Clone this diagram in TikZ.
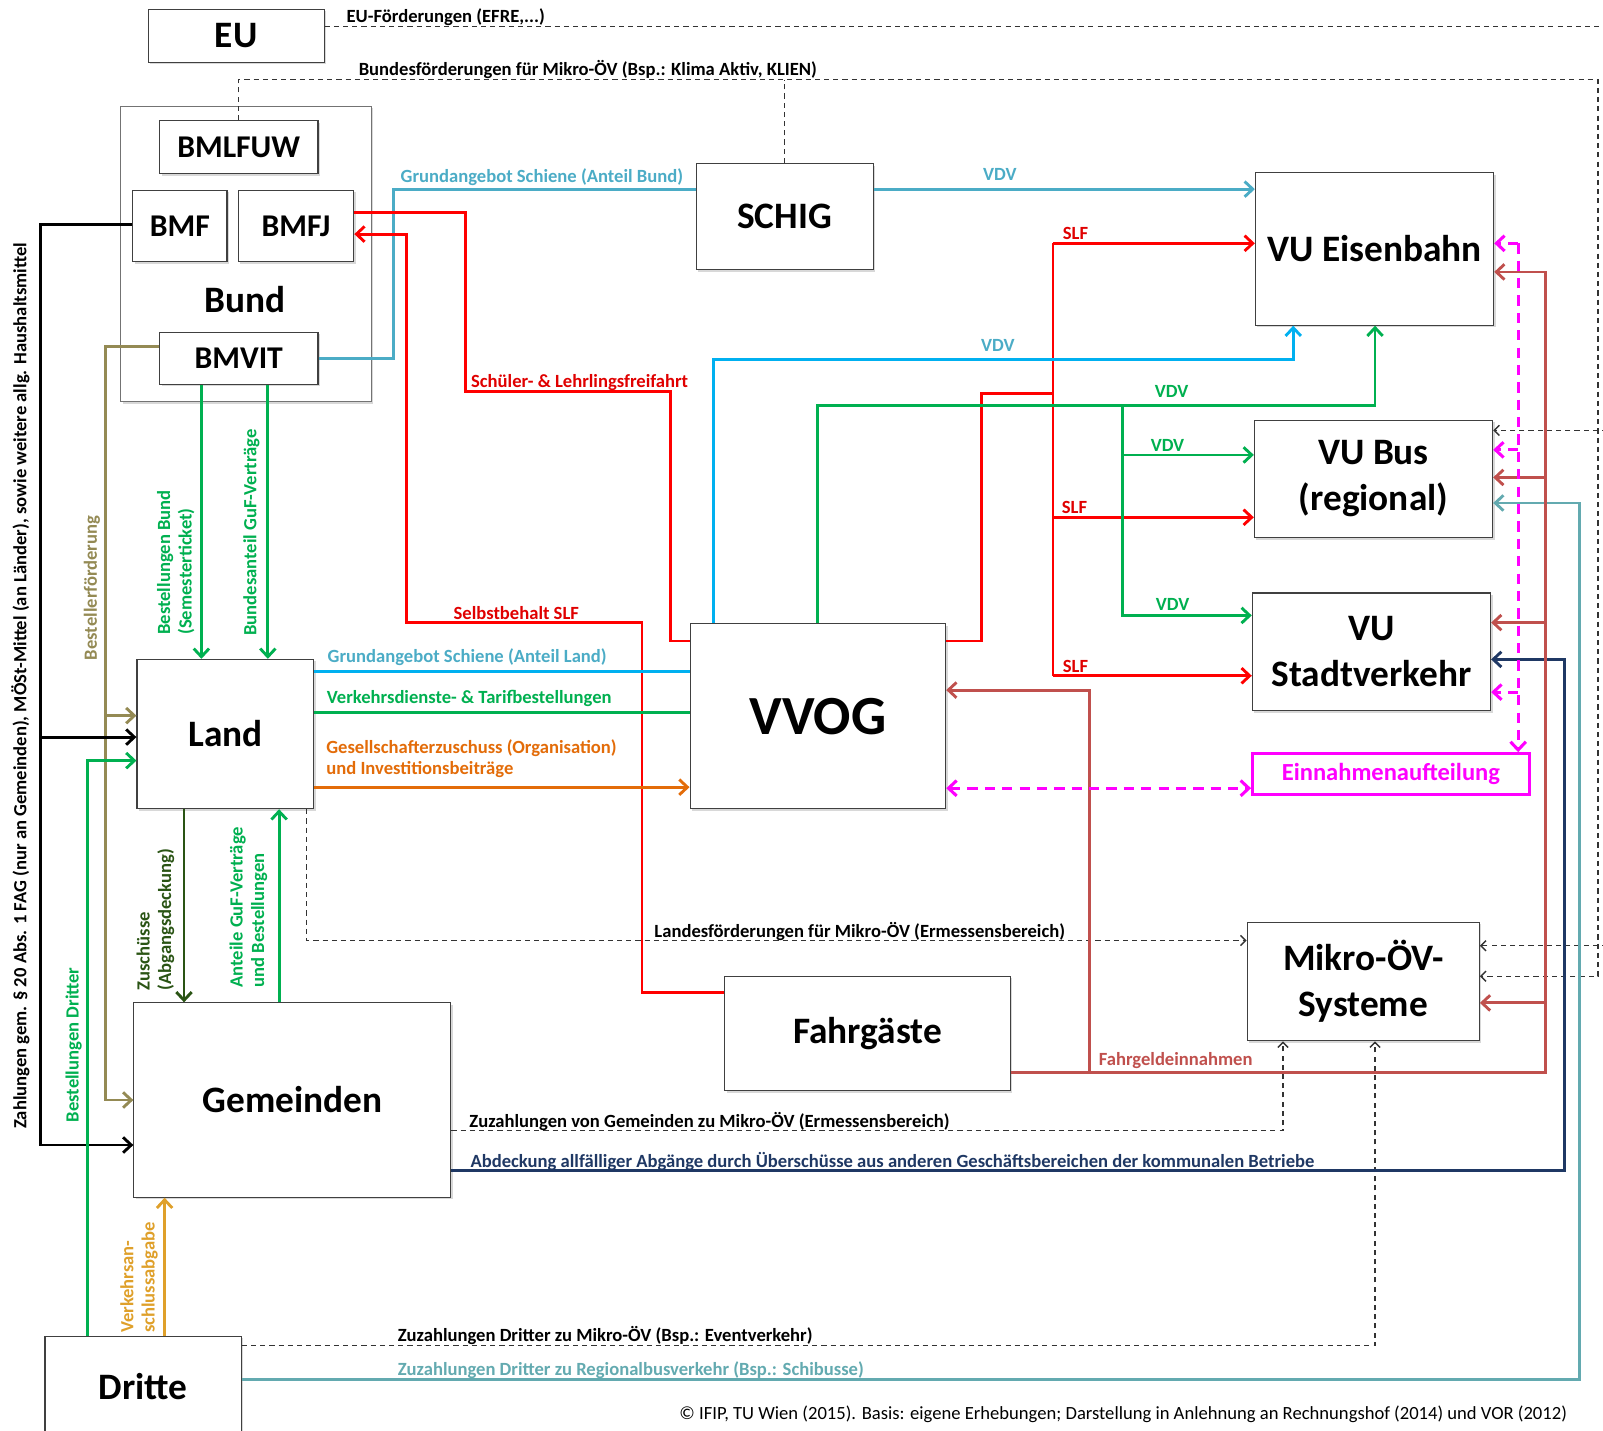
\documentclass[tikz,border=0pt]{standalone}
\usepackage{fontspec}
\setmainfont{Carlito}
\usetikzlibrary{arrows.meta,shadows}

\definecolor{cteal}{HTML}{4BACC6}
\definecolor{csky}{HTML}{00B0F0}
\definecolor{cred}{HTML}{FF0000}
\definecolor{cdred}{HTML}{E00000}
\definecolor{cgreen}{HTML}{00B050}
\definecolor{cdkgreen}{HTML}{2A5414}
\definecolor{colive}{HTML}{948A54}
\definecolor{corange}{HTML}{E36C09}
\definecolor{cgold}{HTML}{DFA02A}
\definecolor{cbrown}{HTML}{C0504D}
\definecolor{cmag}{HTML}{FF00FF}
\definecolor{cnavy}{HTML}{1F3864}
\definecolor{cgteal}{HTML}{63AAB0}

\begin{document}
\begin{tikzpicture}[x=1pt,y=-1pt,
  box/.style={draw=black!75, line width=1.1pt, fill=white, align=center, inner sep=0pt,
    font=\bfseries\fontsize{36.5}{45}\selectfont,
    drop shadow={shadow xshift=2pt, shadow yshift=-2pt, opacity=0.3}},
  bmbox/.style={box, font=\bfseries\fontsize{31}{36}\selectfont},
  lbl/.style={font=\bfseries\fontsize{18.2}{21}\selectfont, inner sep=0pt},
  flow/.style={line width=2.8pt},
  arr/.style={-{Straight Barb[length=8pt,width=15pt]}},
  dline/.style={black!80, line width=1.4pt, dash pattern=on 5pt off 4pt},
  darr/.style={-{Straight Barb[length=5pt,width=10pt]}},
  mline/.style={cmag, line width=3pt, dash pattern=on 10pt off 7pt},
]
\fill[white] (0,0) rectangle (1568,1399);
\useasboundingbox (0,0) rectangle (1568,1399);

\node[box, minimum width=172, minimum height=52] (eu) at (231,35) {EU};
\node[box, minimum width=245, minimum height=289, draw=black!55, line width=0.8pt] (bund) at (240.5,248.5) {};
\node[bmbox, minimum width=155, minimum height=52] (bmlfuw) at (233.5,144) {BMLFUW};
\node[bmbox, minimum width=92, minimum height=70] (bmf) at (176,221) {BMF};
\node[bmbox, minimum width=113, minimum height=70] (bmfj) at (289.5,221) {BMFJ};
\node[bmbox, minimum width=155, minimum height=51] (bmvit) at (233.5,350.5) {BMVIT};
\node[font=\bfseries\fontsize{36.5}{45}\selectfont] (bundlbl) at (240,293) {Bund};
\node[box, minimum width=173, minimum height=104] (schig) at (767.5,212) {SCHIG};
\node[box, minimum width=233, minimum height=149] (vue) at (1344.5,243.5) {VU Eisenbahn};
\node[box, minimum width=233, minimum height=115] (vub) at (1343.5,468.5) {VU Bus\\(regional)};
\node[box, minimum width=233, minimum height=115] (vus) at (1341.5,637.5) {VU\\Stadtverkehr};
\node[draw=cmag, line width=2.5pt, text=cmag, font=\bfseries\fontsize{24}{28}\selectfont, minimum width=271, minimum height=40, inner sep=0pt] (ein) at (1360.5,757) {Einnahmenaufteilung};
\node[box, minimum width=173, minimum height=146] (land) at (220.5,718) {Land};
\node[box, font=\bfseries\fontsize{54}{60}\selectfont, minimum width=250, minimum height=181] (vvog) at (800,700.5) {VVOG};
\node[box, minimum width=227, minimum height=116] (mikro) at (1333.5,960) {Mikro-ÖV-\\Systeme};
\node[box, minimum width=279, minimum height=112] (fahr) at (848.5,1011) {Fahrgäste};
\node[box, minimum width=310, minimum height=190] (gem) at (286,1076) {Gemeinden};
\node[box, minimum width=192, minimum height=98] (dritte) at (140,1356) {Dritte};

\coordinate (eux) at (1590,26);
\coordinate (bundR) at (1563,78);
\coordinate (slf) at (1030,385);
\coordinate (gv) at (1098,397);
\coordinate (ol) at (103,700);
\coordinate (bk) at (40,721);
\coordinate (fg) at (1512,1049);
\coordinate (fgv) at (1066,1049);
\coordinate (mg) at (1485,238);

% dashed Foerderungen
\draw[dline] (eu.east |- 0,26) -- (eux) -- (eux |- 0,925);
\draw[dline, darr] (eux |- 0,421) -- (vub.east |- 0,421);
\draw[dline, darr] (eux |- 0,925) -- (mikro.east |- 0,925);
\draw[dline, darr] (bmlfuw.north) |- (bundR) |- (mikro.east |- 0,955);
\draw[dline] (schig.north) -- (schig.north |- bundR);
\draw[dline, darr] (land.south -| 300,0) |- (mikro.west |- 0,920);
\draw[dline, darr] (gem.east |- 0,1106) -| (mikro.south -| 1255,0);
\draw[dline, darr] (dritte.east |- 0,1316) -| (mikro.south -| 1345,0);

% Bund
\draw[flow, cteal] (bmvit.east) -- ++(73,0) |- (schig.west |- 0,185);
\draw[flow, cteal, arr] (schig.east |- 0,185) -- (vue.west |- 0,185);
\draw[flow, cred] (bmfj.east |- 0,208) -| (455,383) -| (656,627) -- (vvog.west |- 0,627);
\draw[flow, cred, arr] (fahr.west |- 0,971) -| (628,609) -| (398,229) -- (bmfj.east |- 0,229);
\draw[flow, cgreen, arr] (bmvit.south -| 197,0) -- (land.north -| 197,0);
\draw[flow, cgreen, arr] (bmvit.south -| 262,0) -- (land.north -| 262,0);
\draw[flow, colive, arr] (bmvit.west |- 0,339) -| (ol) -- (land.west |- ol);
\draw[flow, colive, arr] (ol) |- (gem.west |- 0,1076);
\draw[flow, black, arr] (bmf.west |- 0,220) -| (bk) -- (land.west |- bk);
\draw[flow, black, arr] (bk) |- (gem.west |- 0,1120);

% VVOG
\draw[flow, cred] (vvog.east |- 0,627) -| (960,385) -- (slf);
\draw[flow, cred] (slf |- 0,238) -- (slf |- 0,661);
\draw[flow, cred, arr] (slf |- 0,238) -- (vue.west |- 0,238);
\draw[flow, cred, arr] (slf |- 0,506) -- (vub.west |- 0,506);
\draw[flow, cred, arr] (slf |- 0,661) -- (vus.west |- 0,661);
\draw[flow, csky, arr] (vvog.north -| 698,0) |- (1265,352) -- (vue.south -| 1265,0);
\draw[flow, cgreen, arr] (vvog.north) |- (1345,397) -- (vue.south -| 1345,0);
\draw[flow, cgreen, arr] (gv) |- (vub.west |- 0,445);
\draw[flow, cgreen, arr] (gv) |- (vus.west |- 0,602);

% Land
\draw[flow, csky] (land.east |- 0,657) -- (vvog.west |- 0,657);
\draw[flow, cgreen] (land.east |- 0,697) -- (vvog.west |- 0,697);
\draw[flow, corange, arr] (land.east |- 0,770) -- (vvog.west |- 0,770);
\draw[flow, cdkgreen, arr] (land.south -| 180,0) -- (gem.north -| 180,0);
\draw[flow, cgreen, arr] (gem.north -| 273,0) -- (land.south -| 273,0);

% Gemeinden, Dritte
\draw[flow, cgreen, arr] (dritte.north -| 86,0) |- (land.west |- 0,744);
\draw[flow, cgold, arr] (dritte.north -| 161,0) -- (gem.south -| 161,0);
\draw[flow, cnavy, arr] (gem.east |- 0,1145) -| (1530,645) -- (vus.east |- 0,645);
\draw[flow, cgteal, arr] (dritte.east |- 0,1349) -| (1545,492) -- (vub.east |- 0,492);

% Fahrgeld
\draw[flow, cbrown, arr] (fahr.east |- fg) -- (fg) |- (vue.east |- 0,266);
\draw[flow, cbrown, arr] (fg |- 0,467) -- (vub.east |- 0,467);
\draw[flow, cbrown, arr] (fg |- 0,609) -- (vus.east |- 0,609);
\draw[flow, cbrown, arr] (fg |- 0,981) -- (mikro.east |- 0,981);
\draw[flow, cbrown, arr] (fgv) |- (vvog.east |- 0,675);

% Einnahmenaufteilung
\draw[mline, arr] (mg) -- (ein.north -| mg);
\draw[mline, arr] (mg) -- (vue.east |- mg);
\draw[mline, arr] (mg |- 0,440) -- (vub.east |- 0,440);
\draw[mline, arr] (mg |- 0,677) -- (vus.east |- 0,677);
\draw[mline, {Straight Barb[length=8pt,width=15pt]}-{Straight Barb[length=8pt,width=15pt]}] (vvog.east |- 0,771) -- (ein.west |- 0,771);

% labels
\node[lbl] (leu) at (436,17) {EU-Förderungen (EFRE,...)};
\node[lbl] (lbf) at (575,68) {Bundesförderungen für Mikro-ÖV (Bsp.: Klima Aktiv, KLIEN)};
\node[lbl, text=cteal] (lgsb) at (530,173) {Grundangebot Schiene (Anteil Bund)};
\node[lbl, text=cteal] (lv1) at (978,171) {VDV};
\node[lbl, text=cdred] (lsl) at (567,374) {Schüler- \& Lehrlingsfreifahrt};
\node[lbl, text=cdred] (lsb) at (505,600) {Selbstbehalt SLF};
\node[lbl, text=cdred] (ls1) at (1052,228) {SLF};
\node[lbl, text=cdred] (ls2) at (1051,496) {SLF};
\node[lbl, text=cdred] (ls3) at (1052,652) {SLF};
\node[lbl, text=cteal] (lv2) at (976,338) {VDV};
\node[lbl, text=cgreen] (lv3) at (1146,383) {VDV};
\node[lbl, text=cgreen] (lv4) at (1142,436) {VDV};
\node[lbl, text=cgreen] (lv5) at (1147,591) {VDV};
\node[lbl, text=cteal] (lgsl) at (457,643) {Grundangebot Schiene (Anteil Land)};
\node[lbl, text=cgreen] (lvt) at (459,683) {Verkehrsdienste- \& Tarifbestellungen};
\node[lbl, text=corange, align=left, anchor=west] (lgz) at (319,742) {Gesellschafterzuschuss (Organisation)\\und Investitionsbeiträge};
\node[lbl, text=cgreen, rotate=90, align=left, anchor=west] (lbb) at (172,621) {Bestellungen Bund\\(Semesterticket)};
\node[lbl, text=cgreen, rotate=90] (lba) at (246,521) {Bundesanteil GuF-Verträge};
\node[lbl, text=colive, rotate=90] (lbe) at (90,575) {Bestellerförderung};
\node[lbl, rotate=90] (lzg) at (20,671) {Zahlungen gem. § 20 Abs. 1 FAG (nur an Gemeinden), MÖSt-Mittel (an Länder), sowie weitere allg. Haushaltsmittel};
\node[lbl, text=cgreen, rotate=90] (lbd) at (72,1022) {Bestellungen Dritter};
\node[lbl, text=cdkgreen, rotate=90, align=left, anchor=west] (lzu) at (152,969) {Zuschüsse\\(Abgangsdeckung)};
\node[lbl, text=cgreen, rotate=90, align=left, anchor=west] (lag) at (243,966) {Anteile GuF-Verträge\\und Bestellungen};
\node[lbl, text=cgold, rotate=90, align=left, anchor=west] (lva) at (136,1304) {Verkehrsan-\\schlussabgabe};
\node[lbl] (llf) at (841,911) {Landesförderungen für Mikro-ÖV (Ermessensbereich)};
\node[lbl] (lzg2) at (694,1097) {Zuzahlungen von Gemeinden zu Mikro-ÖV (Ermessensbereich)};
\node[lbl, text=cnavy] (lab) at (873,1136) {Abdeckung allfälliger Abgänge durch Überschüsse aus anderen Geschäftsbereichen der kommunalen Betriebe};
\node[lbl] (lzd) at (592,1306) {Zuzahlungen Dritter zu Mikro-ÖV (Bsp.: Eventverkehr)};
\node[lbl, text=cgteal] (lzr) at (617,1340) {Zuzahlungen Dritter zu Regionalbusverkehr (Bsp.: Schibusse)};
\node[lbl, text=cbrown] (lfg) at (1150,1037) {Fahrgeldeinnahmen};
\node[font=\fontsize{18.2}{20}\selectfont, inner sep=0pt, anchor=east] (foot) at (1533,1383) {© IFIP, TU Wien (2015). Basis: eigene Erhebungen; Darstellung in Anlehnung an Rechnungshof (2014) und VOR (2012)};
\end{tikzpicture}
\end{document}
